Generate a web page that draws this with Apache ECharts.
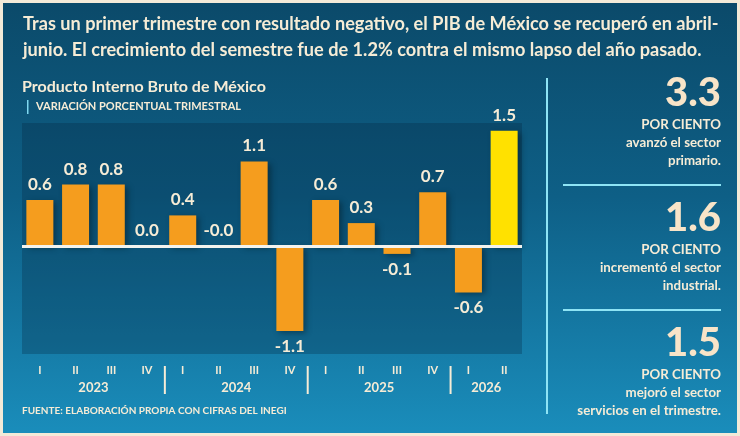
<!DOCTYPE html>
<html><head><meta charset="utf-8">
<script src="https://cdn.jsdelivr.net/npm/echarts@6/dist/echarts.min.js"></script>
<style>
html,body{margin:0;padding:0;background:#f3ead8;}
#c{width:734px;height:430px;margin:3px;background:linear-gradient(180deg,#0b4a6a 0%,#0e5f86 45%,#1a8dbb 100%);}
</style></head><body>
<div id="c"></div>
<script>
const quarters = ['I','II','III','IV','I','II','III','IV','I','II','III','IV','I','II'];
const values = [0.6, 0.8, 0.8, 0.0, 0.4, -0.0, 1.1, -1.1, 0.6, 0.3, -0.1, 0.7, -0.6, 1.5];
const valueLabels = ['0.6','0.8','0.8','0.0','0.4','-0.0','1.1','-1.1','0.6','0.3','-0.1','0.7','-0.6','1.5'];
const years = ['2023','2024','2025','2026'];
const yearStart = [0, 4, 8, 12];
const yearLen = [4, 4, 4, 2];
const sideNumbers = ['3.3','1.6','1.5'];
const sideLines = [['avanzó el sector','primario.'],['incrementó el sector','industrial.'],['mejoró el sector','servicios en el trimestre.']];

const cream = '#f6ecd6';
const chart = echarts.init(document.getElementById('c'));

chart.setOption({
  grid: {left: 19, right: 215, top: 120, bottom: 79, show: true, backgroundColor: 'rgba(3,35,60,0.28)', borderWidth: 0},
  xAxis: {type: 'category', data: quarters, axisLine: {show: false}, axisTick: {show: false},
    axisLabel: {color: cream, fontWeight: 'bold', fontSize: 11, fontFamily: 'Lato', margin: 11}},
  yAxis: {type: 'value', min: -1.4, max: 1.6, show: false, splitLine: {show: false}},
  series: [{type: 'bar', barWidth: 27,
    data: values.map((v, i) => ({value: v, itemStyle: {color: i === values.length - 1 ? '#ffe100' : '#f59d1e'},
      label: {position: (v < 0 || valueLabels[i] === '-0.1') ? 'bottom' : 'top'}})),
    itemStyle: {shadowColor: 'rgba(0,0,0,0.35)', shadowBlur: 6, shadowOffsetX: 3, shadowOffsetY: 2},
    label: {show: true, color: cream, fontSize: 17, fontFamily: 'Lato, sans-serif', fontWeight: 'bold', distance: 7,
      formatter: p => valueLabels[p.dataIndex]},
    markLine: {silent: true, symbol: 'none', label: {show: false},
      lineStyle: {color: '#f3f3ee', width: 3, type: 'solid'}, data: [{yAxis: 0}]}
  }]
});

const g = [];
const nt = (x, y, text, font, align, sx) => ({type: 'text', x: x, y: y, scaleX: sx,
  style: {text: text, fill: cream, font: font, textAlign: align || 'left'}});
// header
g.push(nt(20, 11, 'Tras un primer trimestre con resultado negativo, el PIB de México se recuperó en abril-', 'bold 19px Lato', 'left', 0.955));
g.push(nt(20, 37, 'junio. El crecimiento del semestre fue de 1.2% contra el mismo lapso del año pasado.', 'bold 19px Lato', 'left', 0.955));
g.push(nt(19, 76, 'Producto Interno Bruto de México', 'bold 16px Lato', 'left', 1));
g.push({type: 'rect', shape: {x: 24, y: 97, width: 1.5, height: 14}, style: {fill: '#7fd8f0'}});
g.push(nt(33, 98, 'VARIACIÓN PORCENTUAL TRIMESTRAL', 'bold 11px Lato', 'left', 1));
g.push(nt(19, 403, 'FUENTE: ELABORACIÓN PROPIA CON CIFRAS DEL INEGI', 'bold 10px Lato', 'left', 1));
// side panel
g.push({type: 'rect', shape: {x: 543, y: 75, width: 2, height: 336}, style: {fill: '#8ee4f5'}});
const blockTop = [70, 195, 320];
sideNumbers.forEach((n, i) => {
  const t = blockTop[i];
  g.push({type: 'text', x: 718, y: t, style: {text: n, fill: '#f8e4c8', font: '900 40px Lato', textAlign: 'right'}});
  g.push(nt(718, t + 44, 'POR CIENTO', 'bold 14px Lato', 'right', 0.95));
  g.push(nt(718, t + 62, sideLines[i][0], 'bold 14px Lato', 'right', 0.95));
  g.push(nt(718, t + 80, sideLines[i][1], 'bold 14px Lato', 'right', 0.95));
  if (i < 2) g.push({type: 'rect', shape: {x: 560, y: t + 111, width: 158, height: 2}, style: {fill: '#8ee4f5'}});
});
// years + separators via axis conversion
years.forEach((y, i) => {
  const a = chart.convertToPixel({xAxisIndex: 0}, yearStart[i]);
  const b = chart.convertToPixel({xAxisIndex: 0}, yearStart[i] + yearLen[i] - 1);
  g.push({type: 'text', x: (a + b) / 2, y: 378, style: {text: y, fill: cream, font: 'bold 13px Lato', textAlign: 'center'}});
  if (i > 0) {
    const p = chart.convertToPixel({xAxisIndex: 0}, yearStart[i]);
    const q = chart.convertToPixel({xAxisIndex: 0}, yearStart[i] - 1);
    g.push({type: 'rect', shape: {x: (p + q) / 2 - 1, y: 363, width: 2, height: 28}, style: {fill: cream}});
  }
});
chart.setOption({graphic: g});
</script>
</body></html>
